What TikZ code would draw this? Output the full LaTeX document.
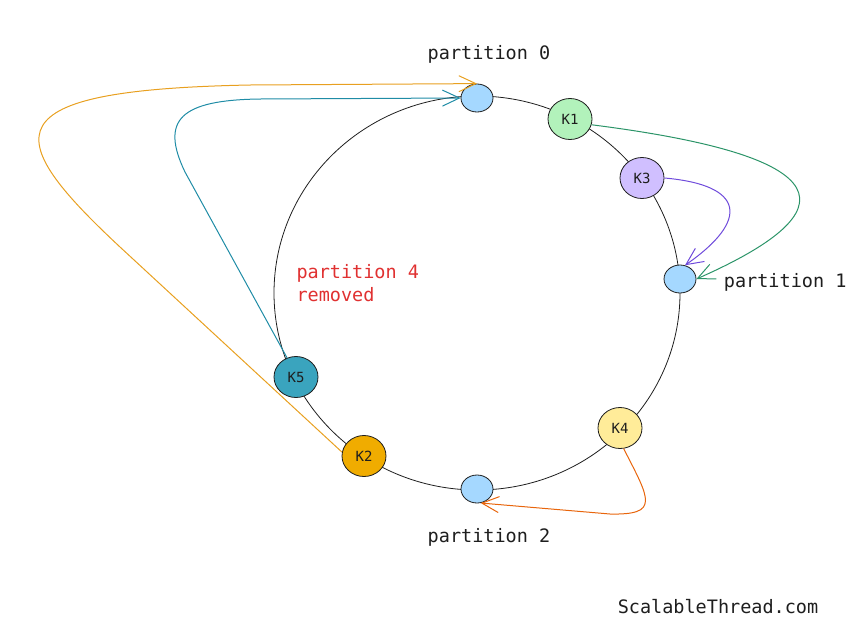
\documentclass[tikz,border=0pt]{standalone}
\usepackage{fontspec}
\setmainfont{DejaVu Sans Mono}
\usetikzlibrary{positioning,shapes.geometric,arrows.meta}
\definecolor{ink}{HTML}{1E1E1E}
\definecolor{partblue}{HTML}{A5D8FF}
\definecolor{kgreen}{HTML}{B2F2BB}
\definecolor{kviolet}{HTML}{D0BFFF}
\definecolor{kyellow}{HTML}{FFEC99}
\definecolor{kgold}{HTML}{F0AC00}
\definecolor{kteal}{HTML}{3AA4BE}
\definecolor{movegold}{HTML}{E8A020}
\definecolor{moveteal}{HTML}{1F8CA6}
\definecolor{movegreen}{HTML}{2B9468}
\definecolor{moveviolet}{HTML}{6F4BDB}
\definecolor{moveorange}{HTML}{E8650C}
\definecolor{removedred}{HTML}{E03131}

\begin{document}
\begin{tikzpicture}[
    x=1pt,y=-1pt,
    every node/.style={font=\fontsize{18.5}{23}\selectfont,text=ink},
    part/.style={ellipse,draw=ink,line width=0.8pt,fill=partblue,minimum width=32pt,minimum height=28pt,inner sep=0pt},
    key/.style={ellipse,draw=ink,line width=0.8pt,minimum width=44pt,minimum height=41pt,inner sep=0pt,font=\fontsize{14}{14}\selectfont},
    move/.style={line width=1pt,-{Straight Barb[length=17pt,width=16pt]}},
    node distance=17pt
]
    \useasboundingbox (0,0) rectangle (866,635);
    \draw[ink,line width=0.8pt] (477,293) ellipse [x radius=203,y radius=197];

    \node[part] (p0) at (477,98) {};
    \node[part] (p1) at (680,279) {};
    \node[part] (p2) at (477,489) {};

    \node[key,fill=kgreen] (k1) at (570,119) {K1};
    \node[key,fill=kgold] (k2) at (364,456) {K2};
    \node[key,fill=kviolet] (k3) at (642,178) {K3};
    \node[key,fill=kyellow] (k4) at (620,428) {K4};
    \node[key,fill=kteal] (k5) at (296,377) {K5};

    \node[above=of p0,xshift=12pt] {partition 0};
    \node[right=24pt of p1,yshift=-3pt] {partition 1};
    \node[below=21pt of p2,xshift=12pt] {partition 2};
    \node[anchor=west,align=left,text=removedred] (removed) at (293,283) {partition 4\\removed};
    \node (site) at (718,607) {ScalableThread.com};

    \draw[move,movegold] (k2.170) -- (120,247) .. controls (0,135) and (-10,90) .. (250,85) -- (p0.north);
    \draw[move,moveteal] (k5.115) -- (185,172) .. controls (160,120) and (180,100) .. (260,99) -- (p0.west);
    \draw[move,movegreen] (k1.-15) .. controls (870,160) and (830,220) .. (p1.east);
    \draw[move,moveviolet] (k3.east) .. controls (745,185) and (750,220) .. (p1.70);
    \draw[move,moveorange] (k4.-80) .. controls (650,500) and (660,515) .. (610,514) -- (p2.-75);
\end{tikzpicture}
\end{document}
